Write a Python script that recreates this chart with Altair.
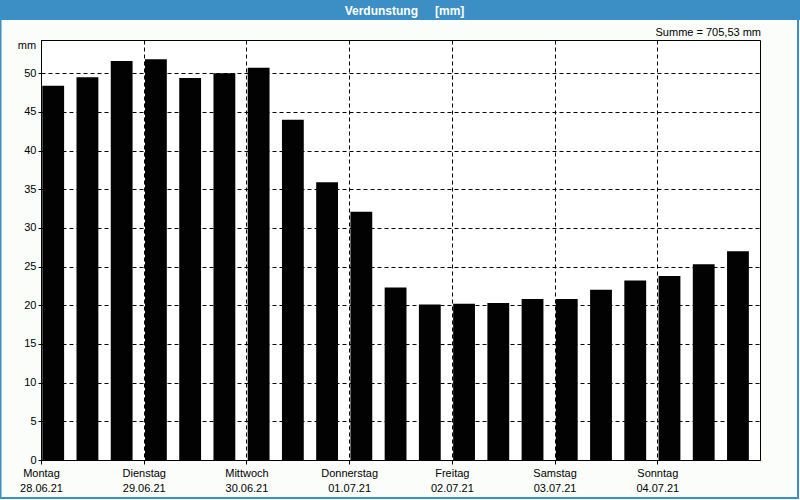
import altair as alt
import pandas as pd
import json

# ---- data ----
values = [48.4, 49.5, 51.6, 51.8, 49.4, 50.0, 50.7,
          44.0, 35.9, 32.1, 22.3, 20.1, 20.2, 20.3,
          20.8, 20.8, 22.0, 23.2, 23.8, 25.3, 27.0]
days = ["Montag", "Dienstag", "Mittwoch", "Donnerstag", "Freitag", "Samstag", "Sonntag"]
dates = ["28.06.21", "29.06.21", "30.06.21", "01.07.21", "02.07.21", "03.07.21", "04.07.21"]
y_ticks = [0, 5, 10, 15, 20, 25, 30, 35, 40, 45, 50]
title_left = "Verdunstung"
title_right = "[mm]"
unit_label = "mm"
sum_label = "Summe = 705,53 mm"

df = pd.DataFrame({"slot": list(range(len(values))), "value": values})

FONT = "Liberation Sans"
BLUE = "#3b8fc4"
W, H = 719, 420
PADL, PADT = 41, 40

label_arr = json.dumps([[d, t] for d, t in zip(days, dates)]).replace('"', "'")
label_expr = f"{label_arr}[round(datum.value/24)]"

x_scale = alt.Scale(domain=[0, 168], nice=False, zero=False, padding=0)
y_scale = alt.Scale(domain=[0, 54.3], nice=False, padding=0)

bars = alt.Chart(df).transform_calculate(
    start="datum.slot*8+0.3",
    end="datum.slot*8+5.4",
    base="0",
).mark_bar(color="#030203", opacity=1).encode(
    x=alt.X("start:Q", scale=x_scale,
            axis=alt.Axis(values=[24 * i for i in range(7)], labelExpr=label_expr,
                          title=None, grid=True, gridDash=[4, 3], gridColor="#000000",
                          gridOpacity=1, gridWidth=1, tickSize=4, tickColor="#000000",
                          domainColor="#000000", labelFont=FONT, labelFontSize=11,
                          labelColor="#000000", labelAlign="center", labelBaseline="top",
                          labelPadding=3, labelLineHeight=15, labelFlush=False,
                          labelOverlap=False)),
    x2="end:Q",
    y=alt.Y("value:Q", scale=y_scale,
            axis=alt.Axis(values=y_ticks, title=None, grid=True, gridDash=[4, 3],
                          gridColor="#000000", gridOpacity=1, gridWidth=1, tickSize=3,
                          tickColor="#000000", domainColor="#000000", labelFont=FONT,
                          labelFontSize=11, labelColor="#000000", labelPadding=2,
                          labelFlush=False, labelOverlap=False)),
    y2="base:Q",
)

one = pd.DataFrame({"k": [0]})

title_bar = alt.Chart(one).mark_rect(color=BLUE, clip=False).encode(
    x=alt.value(-PADL), x2=alt.value(800 - PADL),
    y=alt.value(-PADT), y2=alt.value(-PADT + 20),
)
title_l = alt.Chart(one).mark_text(text=title_left, font=FONT, fontSize=12, fontWeight="bold",
                                   color="white", align="right", baseline="middle").encode(
    x=alt.value(418 - PADL), y=alt.value(10.5 - PADT))
title_r = alt.Chart(one).mark_text(text=title_right, font=FONT, fontSize=12, fontWeight="bold",
                                   color="white", align="left", baseline="middle").encode(
    x=alt.value(435 - PADL), y=alt.value(10.5 - PADT))
unit = alt.Chart(one).mark_text(text=unit_label, font=FONT, fontSize=11, color="#000000",
                                align="center", baseline="middle").encode(
    x=alt.value(27 - PADL), y=alt.value(46 - PADT))
summe = alt.Chart(one).mark_text(text=sum_label, font=FONT, fontSize=11, color="#000000",
                                 align="right", baseline="middle").encode(
    x=alt.value(761 - PADL), y=alt.value(32.5 - PADT))
frame = alt.Chart(one).mark_rect(fill=None, stroke=BLUE, strokeWidth=2, clip=False).encode(
    x=alt.value(-PADL + 0.5), x2=alt.value(800 - PADL - 2),
    y=alt.value(-PADT + 19), y2=alt.value(500 - PADT - 2),
)

chart = alt.layer(bars, title_bar, title_l, title_r, unit, summe, frame).properties(
    width=W, height=H,
    autosize=alt.AutoSizeParams(type="none"),
    padding={"left": PADL, "top": PADT, "right": 800 - PADL - W, "bottom": 500 - PADT - H},
    background="#fbfdfb",
).configure_view(stroke="#000000", strokeWidth=1, fill="#ffffff")

chart.save("out.html", embed_options={"renderer": "svg", "actions": False})
